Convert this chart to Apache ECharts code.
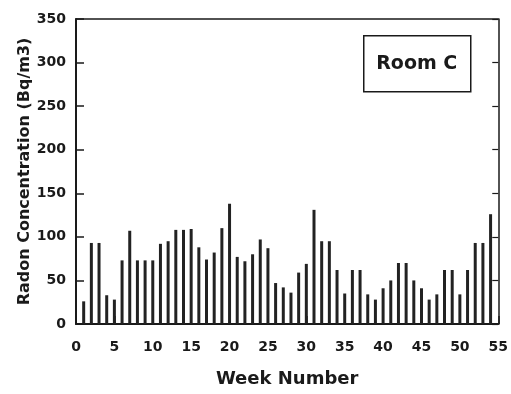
<!DOCTYPE html>
<html><head><meta charset="utf-8">
<script src="https://cdn.jsdelivr.net/npm/echarts@6/dist/echarts.min.js"></script>
<style>html,body{margin:0;padding:0;background:#fff}#c{width:511px;height:394px}</style>
</head><body><div id="c"></div>
<script>
const weeks = [1,2,3,4,5,6,7,8,9,10,11,12,13,14,15,16,17,18,19,20,21,22,23,24,25,26,27,28,29,30,31,32,33,34,35,36,37,38,39,40,41,42,43,44,45,46,47,48,49,50,51,52,53,54];
const radon = [26,93,93,33,28,73,107,73,73,73,92,95,108,108,109,88,74,82,110,138,77,72,80,97,87,47,42,36,59,69,131,95,95,62,35,62,62,34,28,41,50,70,70,50,41,28,34,62,62,34,62,93,93,126];
const yTicks = [0,50,100,150,200,250,300,350];
const xTicks = [0,5,10,15,20,25,30,35,40,45,50,55];
const legendText = 'Room C';

const FONT = '"DejaVu Sans", "Liberation Sans", Arial, sans-serif';
const ink = '#1a1a1a';
const chart = echarts.init(document.getElementById('c'));
chart.setOption({
  animation: false,
  backgroundColor: '#fff',
  grid: {left: 76, right: 9, top: 19, bottom: 70, containLabel: false},
  xAxis: [{
    type: 'value', min: xTicks[0], max: xTicks[xTicks.length-1], interval: 5,
    name: 'Week Number', nameLocation: 'middle', nameGap: 46, nameMoveOverlap: false,
    nameTextStyle: {fontFamily: FONT, fontWeight: 'bold', fontSize: 18, color: ink},
    axisLine: {lineStyle: {color: ink, width: 2}},
    axisTick: {inside: true, length: 8, lineStyle: {color: ink, width: 1.5}},
    minorTick: {show: true, splitNumber: 5, length: 7, lineStyle: {color: ink, width: 1}},
    axisLabel: {margin: 16, fontFamily: FONT, fontWeight: 'bold', fontSize: 14, color: ink},
    splitLine: {show: false}
  }, {
    type: 'value', position: 'top', min: 0, max: 55,
    axisLine: {show: true, onZero: false, lineStyle: {color: ink, width: 1.5}},
    axisTick: {show: false}, axisLabel: {show: false}, splitLine: {show: false}
  }],
  yAxis: [{
    type: 'value', min: yTicks[0], max: yTicks[yTicks.length-1], interval: 50,
    name: 'Radon Concentration (Bq/m3)', nameLocation: 'middle', nameGap: 43, nameMoveOverlap: false,
    nameTextStyle: {fontFamily: FONT, fontWeight: 'bold', fontSize: 16, color: ink},
    axisLine: {show: true, lineStyle: {color: ink, width: 2}},
    axisTick: {inside: true, length: 8, lineStyle: {color: ink, width: 1.5}},
    axisLabel: {margin: 10, fontFamily: FONT, fontWeight: 'bold', fontSize: 14, color: ink},
    splitLine: {show: false}
  }, {
    type: 'value', position: 'right', min: 0, max: 350, interval: 50,
    axisLine: {show: true, onZero: false, lineStyle: {color: ink, width: 1.5}},
    axisTick: {inside: true, length: 6, lineStyle: {color: ink, width: 1.2}},
    axisLabel: {show: false}, splitLine: {show: false}
  }],
  series: [{
    type: 'bar', xAxisIndex: 0, yAxisIndex: 0,
    barWidth: 3,
    itemStyle: {color: '#222'},
    data: weeks.map((w, i) => [w, radon[i]])
  }, {
    type: 'line', xAxisIndex: 1, yAxisIndex: 1, data: [], silent: true
  }],
  graphic: [{
    type: 'group', left: 363, top: 35,
    children: [
      {type: 'rect', shape: {x: 0, y: 0, width: 107, height: 56}, style: {fill: '#fff', stroke: ink, lineWidth: 1.5}},
      {type: 'text', x: 53, y: 28, style: {text: legendText, fontFamily: FONT, fontWeight: 'bold', fontSize: 19, fill: ink, align: 'center', verticalAlign: 'middle'}}
    ]
  }]
});
</script></body></html>
